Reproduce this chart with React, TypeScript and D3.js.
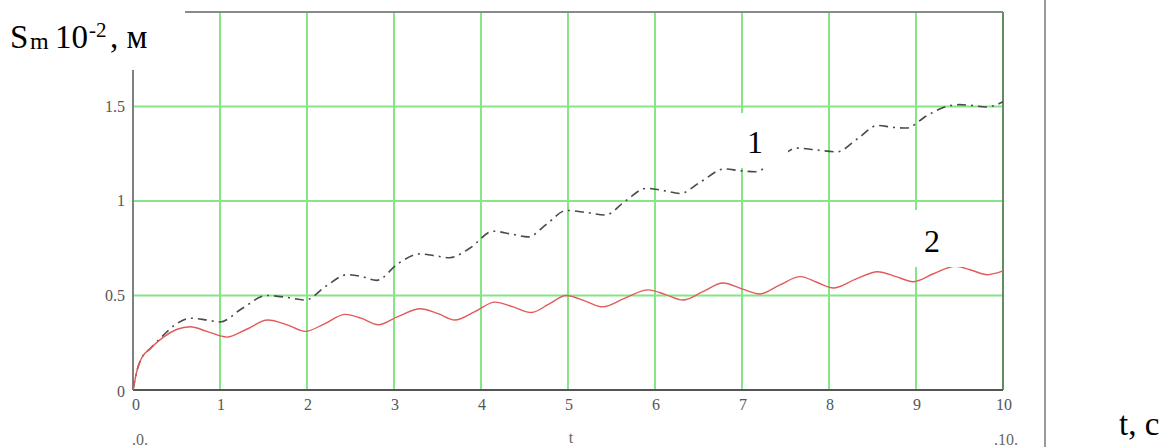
import React from "react";
import * as d3 from "d3";

const W = 1174;
const H = 447;

const xTicks = [0, 1, 2, 3, 4, 5, 6, 7, 8, 9, 10];
const yTicks = [0, 0.5, 1, 1.5];
const xGrid = [1, 2, 3, 4, 5, 6, 7, 8, 9];
const yGrid = [0.5, 1, 1.5];
const yTickLabels = ["0", "0.5", "1", "1.5"];

// Curve 2 (red solid)
const t2 = [0, 0.05, 0.1, 0.2, 0.35, 0.5, 0.66, 0.85, 1.08, 1.3, 1.55, 1.77, 1.98, 2.2, 2.44, 2.62, 2.82, 3.05, 3.3, 3.5, 3.7, 3.93, 4.16, 4.37, 4.58, 4.78, 4.98, 5.2, 5.4, 5.65, 5.92, 6.12, 6.32, 6.55, 6.78, 7.0, 7.2, 7.43, 7.67, 7.86, 8.05, 8.3, 8.56, 8.77, 8.97, 9.2, 9.45, 9.63, 9.82, 10];
const s2 = [0, 0.11, 0.17, 0.22, 0.28, 0.32, 0.335, 0.31, 0.28, 0.32, 0.37, 0.345, 0.31, 0.35, 0.4, 0.38, 0.345, 0.39, 0.43, 0.405, 0.37, 0.415, 0.465, 0.44, 0.41, 0.455, 0.5, 0.47, 0.44, 0.485, 0.53, 0.505, 0.476, 0.52, 0.566, 0.535, 0.508, 0.555, 0.6, 0.57, 0.54, 0.585, 0.626, 0.6, 0.573, 0.615, 0.655, 0.635, 0.61, 0.63];

// Curve 1 (dash-dot)
const t1 = [0, 0.05, 0.1, 0.2, 0.35, 0.5, 0.66, 0.85, 1.0, 1.25, 1.54, 1.77, 1.98, 2.22, 2.46, 2.63, 2.8, 3.05, 3.3, 3.47, 3.64, 3.87, 4.14, 4.35, 4.54, 4.76, 4.98, 5.2, 5.43, 5.66, 5.9, 6.1, 6.29, 6.52, 6.8, 6.98, 7.15, 7.4, 7.63, 7.86, 8.09, 8.33, 8.56, 8.73, 8.89, 9.12, 9.35, 9.5, 9.65, 9.81, 10];
const s1 = [0, 0.11, 0.17, 0.22, 0.29, 0.35, 0.38, 0.37, 0.36, 0.43, 0.5, 0.49, 0.476, 0.55, 0.61, 0.6, 0.58, 0.67, 0.72, 0.71, 0.7, 0.75, 0.84, 0.825, 0.81, 0.88, 0.95, 0.94, 0.926, 1.0, 1.067, 1.055, 1.04, 1.1, 1.17, 1.16, 1.155, 1.22, 1.28, 1.27, 1.26, 1.33, 1.4, 1.39, 1.386, 1.45, 1.5, 1.51, 1.505, 1.497, 1.525];

const SERIF = "Liberation Serif";

export default function App() {
  const x = d3.scaleLinear().domain([0, 10]).range([133, 1003]);
  const y = d3.scaleLinear().domain([0, 2]).range([390, 12]);

  const line = d3.line<[number, number]>()
    .x(d => x(d[0])).y(d => y(d[1])).curve(d3.curveMonotoneX);
  const d1 = t1.map((t, i) => [t, s1[i]] as [number, number]);
  const d2 = t2.map((t, i) => [t, s2[i]] as [number, number]);

  const small = [
    { tx: ".0.", px: x(0) + 7, py: 445 },
    { tx: "t", px: x(5) + 3, py: 443 },
    { tx: ".10.", px: x(10) + 3, py: 445 },
  ];

  const grid = "#86e686";

  return (
    <svg width={W} height={H} style={{ position: "absolute", left: 0, top: 0 }}>
      <rect width={W} height={H} fill="#fff" />

      {xGrid.map(d => (
        <line key={"gx" + d} x1={x(d)} x2={x(d)} y1={y(2)} y2={y(0)} stroke={grid} strokeWidth={2} />
      ))}
      {yGrid.map(d => (
        <line key={"gy" + d} x1={x(0)} x2={x(10)} y1={y(d)} y2={y(d)} stroke={grid} strokeWidth={2} />
      ))}

      <line x1={x(0)} x2={x(10)} y1={y(2)} y2={y(2)} stroke="#8a8a8a" strokeWidth={2} />
      <line x1={x(10)} x2={x(10)} y1={y(2)} y2={y(0)} stroke="#5f8f5f" strokeWidth={2} />
      <line x1={x(0)} x2={x(0)} y1={y(2)} y2={y(0)} stroke="#808080" strokeWidth={2} />
      <line x1={x(0)} x2={x(10)} y1={y(0)} y2={y(0)} stroke="#555" strokeWidth={2} />

      <path d={line(d1) || ""} fill="none" stroke="#4a4a4a" strokeWidth={1.6} strokeDasharray="9,5,2,5" />
      <path d={line(d2) || ""} fill="none" stroke="#e35a5a" strokeWidth={1.4} />

      <g style={{ fontFamily: SERIF }} fontSize={16} fill="#555">
        {xTicks.map(d => (
          <text key={"tx" + d} x={x(d) + (d === 0 ? 3 : 1)} y={410} textAnchor="middle">{String(d)}</text>
        ))}
        {yTicks.map((d, i) => (
          <text key={"ty" + d} x={125} y={y(d) + 5 + (d === 0 ? 2 : 0)} textAnchor="end">{yTickLabels[i]}</text>
        ))}
        {small.map(s => (
          <text key={s.tx} x={s.px} y={s.py} textAnchor="middle" fill="#666">{s.tx}</text>
        ))}
      </g>

      <rect x={0} y={0} width={185} height={70} fill="#fff" />
      <rect x={710} y={113} width={78} height={55} fill="#fff" />
      <rect x={902} y={210} width={65} height={57} fill="#fff" />

      <g style={{ fontFamily: SERIF }} fill="#000">
        <text x={10} y={48} fontSize={33}>S</text>
        <text x={30} y={49} fontSize={24}>m</text>
        <text x={55} y={48} fontSize={33}>10</text>
        <text x={89} y={37} fontSize={21}>-2</text>
        <text x={110} y={48} fontSize={33}>, м</text>
        <text x={755} y={153} textAnchor="middle" fontSize={32}>1</text>
        <text x={932} y={252} textAnchor="middle" fontSize={32}>2</text>
        <text x={1119} y={435} fontSize={33}>t, c</text>
      </g>

      <line x1={1045} x2={1045} y1={0} y2={H} stroke="#777" strokeWidth={1.5} />
    </svg>
  );
}
